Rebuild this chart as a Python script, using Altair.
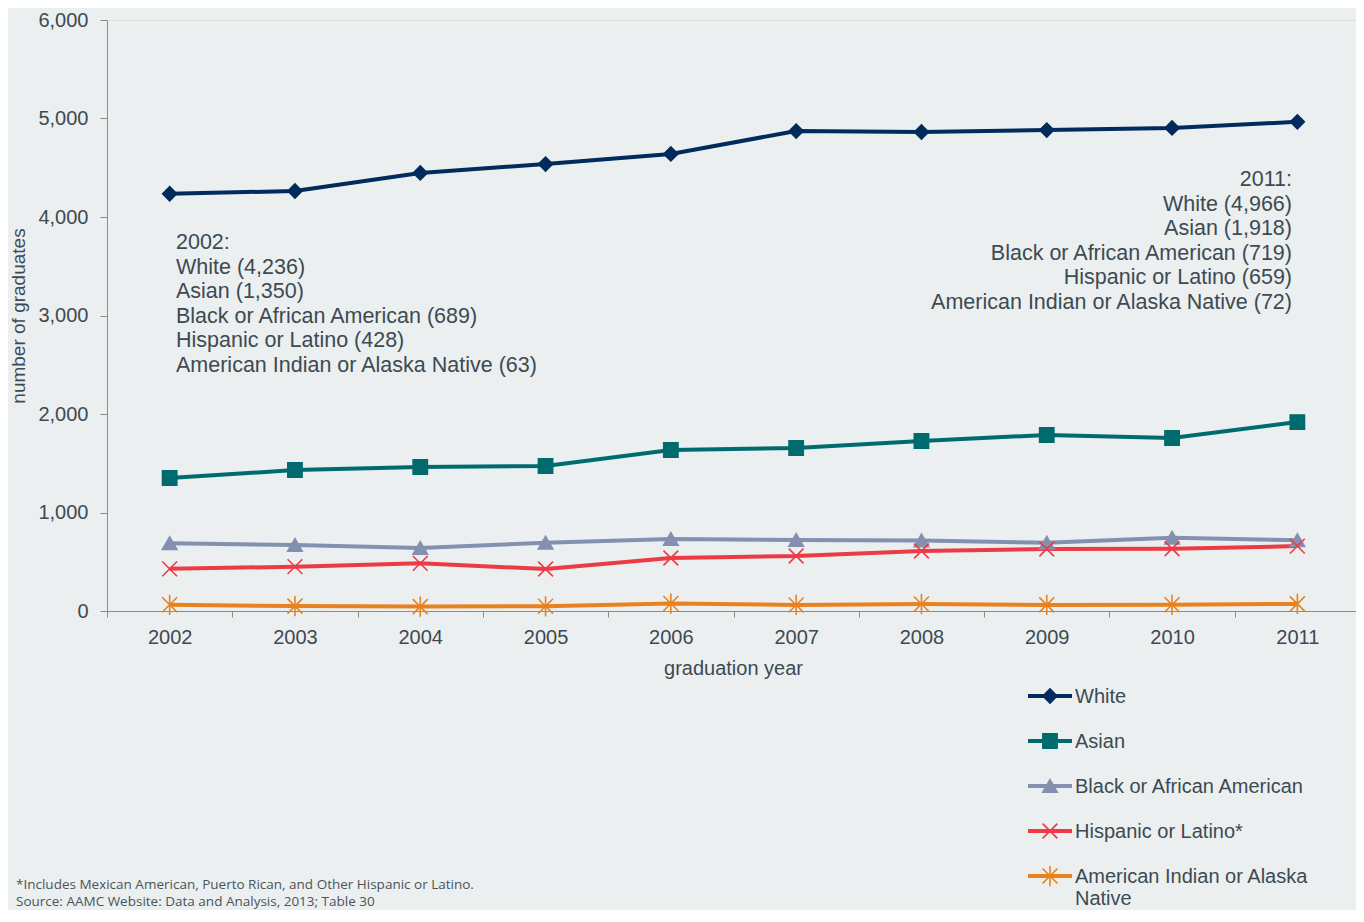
import altair as alt
import pandas as pd

years = ["2002", "2003", "2004", "2005", "2006", "2007", "2008", "2009", "2010", "2011"]
series = ["White", "Asian", "Black or African American", "Hispanic or Latino",
          "American Indian or Alaska Native"]
white = [4236, 4264, 4447, 4538, 4640, 4873, 4863, 4883, 4904, 4966]
asian = [1350, 1431, 1462, 1472, 1635, 1655, 1726, 1787, 1756, 1918]
black = [689, 670, 640, 693, 731, 721, 716, 693, 744, 719]
hispanic = [428, 450, 484, 426, 538, 558, 609, 629, 632, 659]
aian = [63, 50, 45, 48, 76, 61, 71, 62, 63, 72]
legend_labels = ["White", "Asian", "Black or African American", "Hispanic or Latino*",
                 "American Indian or Alaska\nNative"]
colors = ["#002b5c", "#006b6e", "#8390b0", "#ee3a46", "#e8821e"]
fills = ["#002b5c", "#006b6e", "#8390b0", "transparent", "transparent"]
shapes = ["diamond", "square", "triangle-up",
          "M-1,-1L1,1M-1,1L1,-1",
          "M-1,-1L1,1M-1,1L1,-1M0,-1.35L0,1.35"]
sizes = [196, 225, 256, 196, 196]
footnote = "*Includes Mexican American, Puerto Rican, and Other Hispanic or Latino."
source = "Source: AAMC Website: Data and Analysis, 2013; Table 30"

values = [white, asian, black, hispanic, aian]
rows = []
for s, vals in zip(series, values):
    for yr, v in zip(years, vals):
        rows.append({"year": yr, "series": s, "value": v})
df = pd.DataFrame(rows)

ann_2002 = "2002:\n" + "\n".join(f"{n} ({v[0]:,})" for n, v in zip(series, values))
ann_2011 = "2011:\n" + "\n".join(f"{n} ({v[-1]:,})" for n, v in zip(series, values))

TEXT = "#3d4a52"
AX = "#8c8c8c"
FONT = "Liberation Sans"

color_scale = alt.Scale(domain=series, range=colors)
stroke_enc = alt.Stroke("series:N", scale=color_scale, legend=None)
fill_enc = alt.Fill("series:N", scale=alt.Scale(domain=series, range=fills), legend=None)
shape_enc = alt.Shape("series:N", scale=alt.Scale(domain=series, range=shapes), legend=None)
size_enc = alt.Size("series:N", scale=alt.Scale(domain=series, range=sizes), legend=None)

X = alt.X("year:O", sort=years,
          scale=alt.Scale(type="band", paddingInner=0, paddingOuter=0, range=[0, 1253]),
          axis=alt.Axis(title="graduation year", labelAngle=0, tickBand="extent",
                        tickSize=6, labelPadding=10, titlePadding=11, titleX=626,
                        domainColor=AX, tickColor=AX, labelColor=TEXT, titleColor=TEXT,
                        labelFontSize=20, titleFontSize=20, titleFontWeight="normal",
                        labelFont=FONT, titleFont=FONT))
Y = alt.Y("value:Q", scale=alt.Scale(domain=[0, 6000], nice=False),
          axis=alt.Axis(title="number of graduates", values=[0, 1000, 2000, 3000, 4000, 5000, 6000],
                        format=",d", grid=False, tickSize=7, labelPadding=12, titlePadding=9,
                        domainColor=AX, tickColor=AX, labelColor=TEXT, titleColor=TEXT,
                        labelFontSize=20, titleFontSize=19, titleFontWeight="normal",
                        labelFont=FONT, titleFont=FONT))

base = alt.Chart(df)
lines = base.mark_line(strokeWidth=4).encode(
    x=X, y=Y, color=alt.Color("series:N", scale=color_scale, legend=None),
    order=alt.Order("year:O"))
points = base.mark_point(opacity=1, strokeWidth=1.6).encode(
    x=X, y=Y, stroke=stroke_enc, fill=fill_enc, shape=shape_enc, size=size_enc)

ann1 = alt.Chart(pd.DataFrame({"t": [ann_2002]})).mark_text(
    align="left", baseline="middle", fontSize=21.5, lineBreak="\n", lineHeight=24.6,
    color=TEXT, font=FONT).encode(x=alt.value(69), y=alt.value(223), text="t:N")
ann2 = alt.Chart(pd.DataFrame({"t": [ann_2011]})).mark_text(
    align="right", baseline="middle", fontSize=21.5, lineBreak="\n", lineHeight=24.6,
    color=TEXT, font=FONT).encode(x=alt.value(1185), y=alt.value(160), text="t:N")
foot = alt.Chart(pd.DataFrame({"t": [footnote + "\n" + source]})).mark_text(
    align="left", baseline="middle", fontSize=13.5, lineBreak="\n", lineHeight=16.5,
    color="#4a5459", font="Open Sans").encode(x=alt.value(-91), y=alt.value(865), text="t:N")

main = alt.layer(lines, points, ann1, ann2, foot)

leg_df = pd.DataFrame({"series": series, "label": legend_labels})
leg_y = alt.Y("series:N", scale=alt.Scale(type="point", domain=series, range=[676, 856], padding=0),
              axis=None)
leg_base = alt.Chart(leg_df)
leg_rule = leg_base.mark_rule(strokeWidth=4).encode(
    x=alt.value(921), x2=alt.value(965), y=leg_y,
    color=alt.Color("series:N", scale=color_scale, legend=None))
leg_pts = leg_base.mark_point(opacity=1, strokeWidth=1.6).encode(
    x=alt.value(943), y=leg_y, stroke=stroke_enc, fill=fill_enc, shape=shape_enc, size=size_enc)
leg_text = leg_base.mark_text(
    align="left", baseline="alphabetic", dy=7, fontSize=20, lineBreak="\n", lineHeight=22,
    color=TEXT, font=FONT).encode(x=alt.value(968), y=leg_y, text="label:N")
legend = alt.layer(leg_rule, leg_pts, leg_text)

chart = alt.layer(main, legend).resolve_scale(y="independent").properties(
    width=1249, height=591,
    padding={"left": 99, "top": 12, "right": 0, "bottom": 299},
    autosize=alt.AutoSizeParams(type="none"),
    background="#ebeff0",
).configure_view(stroke=None).configure(font=FONT)

chart.save("out.html", embed_options={"renderer": "svg", "actions": False})
